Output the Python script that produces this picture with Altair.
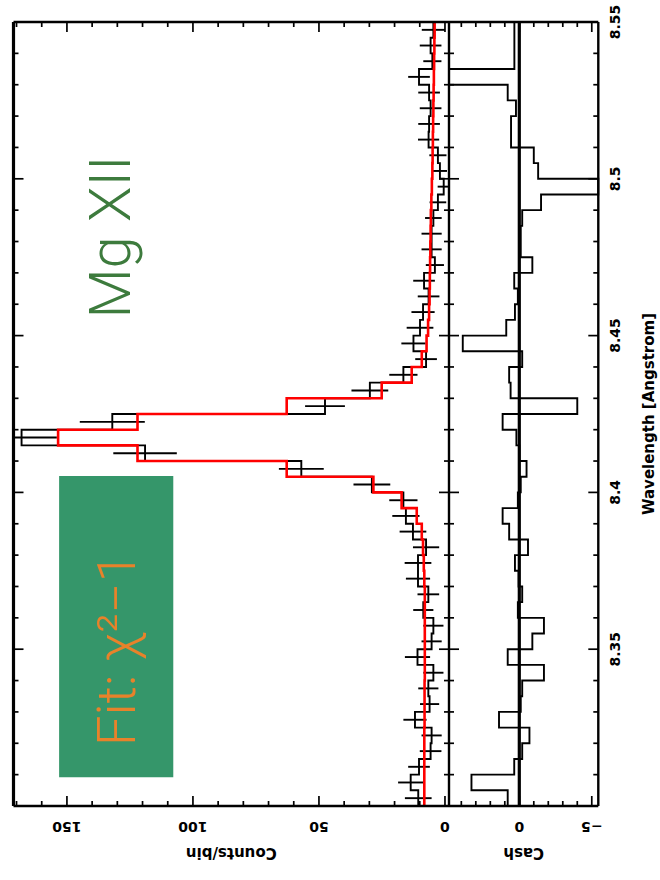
import altair as alt
import pandas as pd

# ---- layout of the two stacked panels (pixels) ----
PLOT_TOP, PLOT_BOTTOM = 22, 806          # wavelength axis runs bottom -> top
X_LEFT, X_MID, X_RIGHT = 13.5, 449, 598.3  # counts panel | residual panel

WL_LIM = (8.300, 8.550)
CNT_LIM = (-1.6, 171.2)
RES_LIM = (-5.45, 4.85)
BIN = 0.005

# data units per pixel, used for tick lengths and label offsets
PXW = (WL_LIM[1] - WL_LIM[0]) / (PLOT_BOTTOM - PLOT_TOP)
PXC = (CNT_LIM[1] - CNT_LIM[0]) / (X_MID - X_LEFT)
PXR = (RES_LIM[1] - RES_LIM[0]) / (X_RIGHT - X_MID)

# ---- spectrum: 0.005 A bins from 8.300 A ----
wl_lo = [round(WL_LIM[0] + BIN * i, 3) for i in range(50)]

counts = [10.6, 13.6, 10.3, 5.7, 5.3, 11.9, 6.1, 6.6, 4.6, 10.9,
          5.3, 4.6, 8.6, 6.6, 10.7, 10.7, 7.5, 12.7, 15.5, 16.5,
          29.0, 57.0, 119.0, 168.0, 132.0, 47.6, 29.8, 16.5, 7.5, 12.5,
          9.9, 8.7, 6.5, 8.3, 4.0, 5.3, 5.3, 4.6, 2.8, 0.5,
          2.0, 2.8, 6.5, 6.3, 5.7, 6.3, 10.3, 5.0, 5.7, 4.6]

errors = [5.3, 5.0, 4.3, 4.3, 4.0, 4.6, 3.8, 4.0, 4.0, 5.0,
          4.0, 4.0, 4.0, 4.3, 4.8, 5.3, 5.2, 5.3, 5.4, 5.6,
          7.3, 8.9, 12.6, 14.0, 12.9, 7.9, 7.3, 5.6, 4.3, 4.8,
          5.3, 4.6, 4.3, 4.3, 3.6, 4.0, 4.0, 3.3, 3.3, 2.4,
          2.8, 3.4, 4.2, 4.3, 4.3, 4.3, 4.3, 3.6, 4.3, 4.6]

model = [8.2, 8.2, 8.2, 8.2, 8.2, 8.1, 8.1, 8.1, 8.0, 8.0,
         8.0, 8.0, 8.0, 8.0, 8.2, 8.4, 8.7, 9.2, 11.2, 17.2,
         28.4, 62.8, 122.0, 153.5, 122.0, 62.8, 25.1, 13.2, 9.2, 7.3,
         6.7, 6.3, 6.1, 6.0, 5.9, 5.8, 5.7, 5.6, 5.4, 5.2,
         5.0, 4.9, 4.8, 4.7, 4.6, 4.5, 4.4, 4.3, 4.2, 4.1]

resid = [0.8, 3.3, 0.35, -0.2, -0.7, 1.4, -0.1, -0.2, -1.7, 0.8,
         -0.9, -1.7, 0.1, -0.2, 0.05, 0.3, -0.6, 0.7, 1.15, 0.1,
         -0.1, -0.5, 0.0, 0.2, 1.15, -4.0, 0.6, 0.7, -0.2, 3.9,
         0.9, 0.3, 0.1, 0.35, -0.9, -0.1, -0.1, -0.2, -1.5, -6.0,
         -1.3, -1.0, 0.57, 0.57, 0.23, 0.8, 5.5, 0.34, 0.34, 0.34]

# ---- axis ticks and labels ----
cnt_major = [0, 50, 100, 150]
cnt_minor = [10, 20, 30, 40, 60, 70, 80, 90, 110, 120, 130, 140, 160, 170]
cnt_labels = ["0", "50", "100", "150"]
res_major = [-5, 0, 5]
res_minor = [-4, -3, -2, -1, 1, 2, 3, 4]
res_label_vals = [0, -5]
res_labels = ["0", "\u22125"]
wl_major = [8.35, 8.40, 8.45, 8.50]
wl_minor = [8.31, 8.32, 8.33, 8.34, 8.36, 8.37, 8.38, 8.39, 8.41, 8.42, 8.43,
            8.44, 8.46, 8.47, 8.48, 8.49, 8.51, 8.52, 8.53, 8.54]
wl_label_vals = [8.35, 8.40, 8.45, 8.50, 8.55]
wl_labels = ["8.35", "8.4", "8.45", "8.5", "8.55"]

# ---- annotations ----
ION_LABEL = "Mg XII"
ION_POS = (125.0, 8.4814)
FIT_LABEL = "Fit: \u03c7\u00b2\u22121"
FIT_POS = (123.0, 8.350)
FIT_BOX = (153.1, 107.8, 8.4052, 8.3092)

GREEN_TEXT = "#3d7b3d"
GREEN_BOX = "#35966a"
ORANGE = "#e8822a"

# ---- tables ----
bins = pd.DataFrame({
    "lo": wl_lo,
    "hi": [w + BIN for w in wl_lo],
    "counts": counts, "err": errors, "model": model, "resid": resid,
})
bins["mid"] = bins["lo"] + BIN / 2


def step_table(col):
    rows = []
    for i, r in bins.iterrows():
        rows.append({"wl": r["lo"], "v": r[col], "seq": 2 * i})
        rows.append({"wl": r["hi"], "v": r[col], "seq": 2 * i + 1})
    return pd.DataFrame(rows)


x_main = alt.Scale(domain=list(CNT_LIM), range=[X_MID, X_LEFT], clamp=True, nice=False, zero=False)
x_res = alt.Scale(domain=list(RES_LIM), range=[X_RIGHT, X_MID], clamp=True, nice=False, zero=False)
x_res_free = alt.Scale(domain=list(RES_LIM), range=[X_RIGHT, X_MID], nice=False, zero=False)
y_wl = alt.Scale(domain=list(WL_LIM), range=[PLOT_BOTTOM, PLOT_TOP], nice=False, zero=False)


def X(f, sc):
    return alt.X(f, type="quantitative", scale=sc, axis=None)


def Y(f):
    return alt.Y(f, type="quantitative", scale=y_wl, axis=None)


layers = []

# annotation box
box_df = pd.DataFrame([{"x0": FIT_BOX[0], "x1": FIT_BOX[1], "y0": FIT_BOX[2], "y1": FIT_BOX[3]}])
layers.append(alt.Chart(box_df).mark_rect(color=GREEN_BOX).encode(
    x=X("x0", x_main), x2="x1", y=Y("y0"), y2="y1"))

# observed counts: step histogram + error bars
layers.append(alt.Chart(step_table("counts")).mark_line(color="black", strokeWidth=1.9).encode(
    x=X("v", x_main), y=Y("wl"), order=alt.Order("seq:Q")))
layers.append(alt.Chart(bins).transform_calculate(
    e0="datum.counts - datum.err", e1="datum.counts + datum.err"
).mark_rule(color="black", strokeWidth=1.9).encode(
    x=X("e0", x_main), x2="e1", y=Y("mid")))

# fitted model
layers.append(alt.Chart(step_table("model")).mark_line(color="#ff0000", strokeWidth=2.6).encode(
    x=X("v", x_main), y=Y("wl"), order=alt.Order("seq:Q")))

# residual panel
zero_df = pd.DataFrame([{"r": 0.0, "y0": WL_LIM[0], "y1": WL_LIM[1]}])
layers.append(alt.Chart(zero_df).mark_rule(color="black", strokeWidth=3.2).encode(
    x=X("r", x_res), y=Y("y0"), y2="y1"))
layers.append(alt.Chart(step_table("resid")).mark_line(color="black", strokeWidth=1.9).encode(
    x=X("v", x_res), y=Y("wl"), order=alt.Order("seq:Q")))

# frames
frame_main = pd.DataFrame([
    {"x0": CNT_LIM[1], "x1": CNT_LIM[1], "y0": WL_LIM[0], "y1": WL_LIM[1], "w": 3.2},
    {"x0": CNT_LIM[0], "x1": CNT_LIM[0], "y0": WL_LIM[0], "y1": WL_LIM[1], "w": 2.4},
    {"x0": CNT_LIM[1], "x1": CNT_LIM[0], "y0": WL_LIM[0], "y1": WL_LIM[0], "w": 2.4},
    {"x0": CNT_LIM[1], "x1": CNT_LIM[0], "y0": WL_LIM[1], "y1": WL_LIM[1], "w": 2.4},
])
frame_res = pd.DataFrame([
    {"x0": RES_LIM[0], "x1": RES_LIM[0], "y0": WL_LIM[0], "y1": WL_LIM[1], "w": 2.4},
    {"x0": RES_LIM[1], "x1": RES_LIM[0], "y0": WL_LIM[0], "y1": WL_LIM[0], "w": 2.4},
    {"x0": RES_LIM[1], "x1": RES_LIM[0], "y0": WL_LIM[1], "y1": WL_LIM[1], "w": 2.4},
])
for df, sc in [(frame_main, x_main), (frame_res, x_res)]:
    layers.append(alt.Chart(df).mark_rule(color="black").encode(
        x=X("x0", sc), x2="x1", y=Y("y0"), y2="y1",
        strokeWidth=alt.StrokeWidth("w:Q", scale=None)))

# ticks along the horizontal (value) axes, pointing inward from bottom and top frames
def value_ticks(major, minor):
    rows = []
    for vals, L in [(major, 10), (minor, 5)]:
        for v in vals:
            rows.append({"v": v, "y0": WL_LIM[0], "y1": WL_LIM[0] + L * PXW})
            rows.append({"v": v, "y0": WL_LIM[1], "y1": WL_LIM[1] - L * PXW})
    return pd.DataFrame(rows)


layers.append(alt.Chart(value_ticks(cnt_major, cnt_minor)).mark_rule(color="black", strokeWidth=1.7).encode(
    x=X("v", x_main), y=Y("y0"), y2="y1"))
layers.append(alt.Chart(value_ticks(res_major, res_minor)).mark_rule(color="black", strokeWidth=1.7).encode(
    x=X("v", x_res), y=Y("y0"), y2="y1"))

# ticks along the wavelength axis on every vertical frame line
def wl_ticks(edges):
    rows = []
    for vals, L in [(wl_major, 10), (wl_minor, 5)]:
        for w in vals:
            for edge, unit, sign in edges:
                rows.append({"wl": w, "x0": edge, "x1": edge + sign * L * unit})
    return pd.DataFrame(rows)


layers.append(alt.Chart(wl_ticks([(CNT_LIM[1], PXC, -1), (CNT_LIM[0], PXC, 1)])).mark_rule(
    color="black", strokeWidth=1.7).encode(x=X("x0", x_main), x2="x1", y=Y("wl")))
layers.append(alt.Chart(wl_ticks([(RES_LIM[1], PXR, -1), (RES_LIM[0], PXR, 1)])).mark_rule(
    color="black", strokeWidth=1.7).encode(x=X("x0", x_res), x2="x1", y=Y("wl")))

# tick labels and axis titles
TICK_FONT = dict(font="DejaVu Sans", fontWeight="bold", fontSize=14, color="black")
TITLE_FONT = dict(font="DejaVu Sans", fontWeight="bold", fontSize=15, color="black")
y_lab = WL_LIM[0] - 20 * PXW
y_title = WL_LIM[0] - 47 * PXW

cnt_lab_df = pd.DataFrame({"v": cnt_major, "t": cnt_labels, "y": y_lab})
layers.append(alt.Chart(cnt_lab_df).mark_text(angle=180, align="center", baseline="middle", **TICK_FONT).encode(
    x=X("v", x_main), y=Y("y"), text="t:N"))
res_lab_df = pd.DataFrame({"v": res_label_vals, "t": res_labels, "y": y_lab})
layers.append(alt.Chart(res_lab_df).mark_text(angle=180, align="center", baseline="middle", **TICK_FONT).encode(
    x=X("v", x_res), y=Y("y"), text="t:N"))

cnt_title = pd.DataFrame([{"v": (CNT_LIM[0] + CNT_LIM[1]) / 2, "y": y_title, "t": "Counts/bin"}])
layers.append(alt.Chart(cnt_title).mark_text(angle=180, align="center", baseline="middle", **TITLE_FONT).encode(
    x=X("v", x_main), y=Y("y"), text="t:N"))
res_title = pd.DataFrame([{"v": (RES_LIM[0] + RES_LIM[1]) / 2, "y": y_title, "t": "Cash"}])
layers.append(alt.Chart(res_title).mark_text(angle=180, align="center", baseline="middle", **TITLE_FONT).encode(
    x=X("v", x_res), y=Y("y"), text="t:N"))

wl_lab_df = pd.DataFrame({"wl": wl_label_vals, "t": wl_labels, "x": RES_LIM[0] - 18 * PXR})
layers.append(alt.Chart(wl_lab_df).mark_text(angle=270, align="center", baseline="middle", **TICK_FONT).encode(
    x=X("x", x_res_free), y=Y("wl"), text="t:N"))
wl_title = pd.DataFrame([{"x": RES_LIM[0] - 51 * PXR, "wl": (WL_LIM[0] + WL_LIM[1]) / 2,
                          "t": "Wavelength [Angstrom]"}])
layers.append(alt.Chart(wl_title).mark_text(angle=270, align="center", baseline="middle", **TITLE_FONT).encode(
    x=X("x", x_res_free), y=Y("wl"), text="t:N"))

# line identification and fit statistic
ion_df = pd.DataFrame([{"x": ION_POS[0], "wl": ION_POS[1], "t": ION_LABEL}])
layers.append(alt.Chart(ion_df).mark_text(angle=270, align="center", baseline="alphabetic",
                                          font="Roboto", fontWeight=300, fontSize=58,
                                          color=GREEN_TEXT).encode(
    x=X("x", x_main), y=Y("wl"), text="t:N"))
fit_df = pd.DataFrame([{"x": FIT_POS[0], "wl": FIT_POS[1], "t": FIT_LABEL}])
layers.append(alt.Chart(fit_df).mark_text(angle=270, align="center", baseline="alphabetic",
                                          font="Roboto", fontWeight=300, fontSize=54,
                                          color=ORANGE).encode(
    x=X("x", x_main), y=Y("wl"), text="t:N"))

chart = alt.layer(*layers).resolve_scale(x="independent").properties(
    width=660, height=880,
    autosize=alt.AutoSizeParams(type="none"),
    padding=0,
    background="white",
).configure_view(strokeWidth=0)

chart.save("out.html", embed_options={"renderer": "svg", "actions": False})
